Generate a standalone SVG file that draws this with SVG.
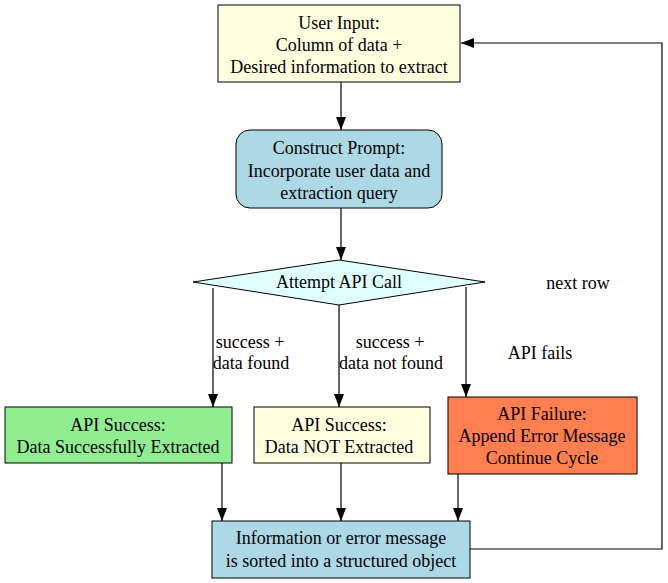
<svg xmlns="http://www.w3.org/2000/svg" width="668" height="583" viewBox="0 0 668 583">
<style>
text{font-family:"Liberation Serif","Times New Roman",serif;font-size:18px;fill:#000;text-anchor:middle}
.n{stroke:#000;stroke-width:1}
.e{fill:none;stroke:#000;stroke-width:1.2}
</style>
<defs>
<marker id="a" markerWidth="13" markerHeight="10" refX="13" refY="5" orient="auto" markerUnits="userSpaceOnUse">
<path d="M0,0 L13,5 L0,10 Z" fill="#000"/>
</marker>
</defs>
<rect width="668" height="583" fill="#fff"/>
<g id="edges">
<path class="e" d="M341,82 V130" marker-end="url(#a)"/>
<path class="e" d="M341,208 V260" marker-end="url(#a)"/>
<path class="e" d="M213,288 V407" marker-end="url(#a)"/>
<path class="e" d="M339,305 V407" marker-end="url(#a)"/>
<path class="e" d="M466,287 V397" marker-end="url(#a)"/>
<path class="e" d="M222,463 V521" marker-end="url(#a)"/>
<path class="e" d="M341,463 V521" marker-end="url(#a)"/>
<path class="e" d="M458,474 V521" marker-end="url(#a)"/>
<path class="e" d="M470,549 H662 V43 H461" marker-end="url(#a)"/>
<text x="250" y="348">success +</text>
<text x="251" y="369">data found</text>
<text x="390" y="348">success +</text>
<text x="391" y="369">data not found</text>
<text x="540" y="359">API fails</text>
<text x="578" y="289">next row</text>
</g>
<g id="user_input">
<rect class="n" x="218" y="5" width="242" height="77" fill="#ffffe0"/>
<text x="339" y="29">User Input:</text>
<text x="339" y="51">Column of data +</text>
<text x="339" y="73">Desired information to extract</text>
</g>
<g id="construct_prompt">
<rect class="n" x="236" y="130" width="206" height="78" rx="14" fill="#add8e6"/>
<text x="339" y="154">Construct Prompt:</text>
<text x="339" y="177">Incorporate user data and</text>
<text x="339" y="199">extraction query</text>
</g>
<g id="attempt_api">
<polygon class="n" points="339,260 485,282 339,305 193,282" fill="#e0ffff"/>
<text x="339" y="288">Attempt API Call</text>
</g>
<g id="success_found">
<rect class="n" x="5" y="407" width="227" height="56" fill="#90ee90"/>
<text x="118" y="431">API Success:</text>
<text x="118" y="453">Data Successfully Extracted</text>
</g>
<g id="success_not_found">
<rect class="n" x="254" y="407" width="176" height="56" fill="#ffffe0"/>
<text x="339" y="431">API Success:</text>
<text x="339" y="453">Data NOT Extracted</text>
</g>
<g id="api_failure">
<rect class="n" x="448" y="397" width="189" height="77" fill="#ff7f50"/>
<text x="542" y="420">API Failure:</text>
<text x="542" y="442">Append Error Message</text>
<text x="542" y="464">Continue Cycle</text>
</g>
<g id="sorted">
<rect class="n" x="212" y="521" width="258" height="57" fill="#add8e6"/>
<text x="341" y="544">Information or error message</text>
<text x="341" y="567">is sorted into a structured object</text>
</g>
</svg>
